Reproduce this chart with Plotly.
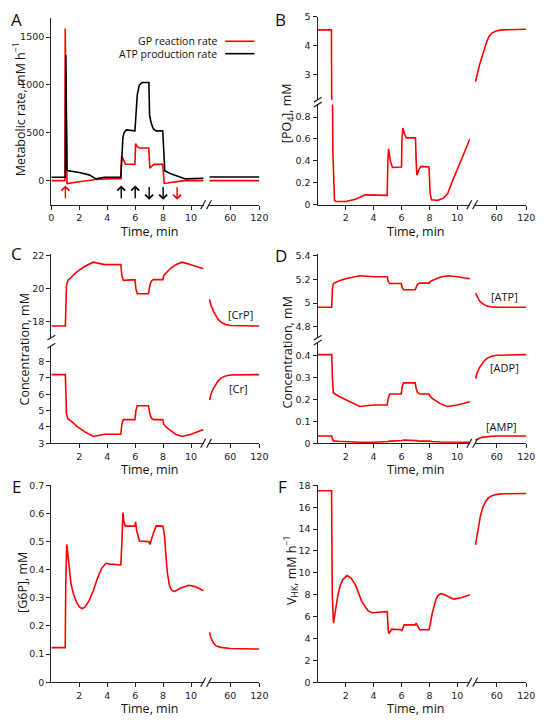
import plotly.graph_objects as go

# the page body has an 8 px margin, so the figure is drawn 8 px in from the window corner
OFF = 8
W, H = 542, 715
RED = '#ff0000'
BLACK = '#000000'

# ---------------- data (time in min) ----------------
# A: metabolic rates, mM h-1
gp_t = [0, 0.97, 0.99, 1.12, 2.0, 3.2, 4.0, 4.97, 5.03, 5.15, 5.3, 5.98, 6.03, 6.12, 6.3, 6.97, 7.05, 7.15, 7.35, 7.97, 8.08, 8.3, 8.8, 9.5, 10.9]
gp_v = [0, 0, 1590, -30, -12, 12, 18, 20, 262, 215, 172, 170, 388, 360, 340, 340, 130, 145, 170, 170, -28, -25, -12, 0, 0]
atp_rate_t = [0, 1.0, 1.03, 1.12, 2.0, 2.7, 3.2, 3.8, 4.97, 5.05, 5.12, 5.2, 5.35, 5.98, 6.05, 6.15, 6.3, 6.5, 6.98, 7.03, 7.15, 7.3, 7.5, 7.97, 8.05, 8.12, 8.6, 9.6, 10.9]
atp_rate_v = [35, 35, 1315, 105, 85, 60, 18, 35, 35, 300, 450, 500, 530, 520, 700, 900, 1000, 1025, 1025, 680, 600, 540, 520, 520, 300, 100, 70, 18, 25]
rate_rt = [17, 120]
gp_rv = [0, 0]
atp_rate_rv = [38, 38]
arrow_t = [1, 5, 6, 7, 8, 9]
arrow_up = [True, True, True, False, False, False]
arrow_col = [RED, BLACK, BLACK, BLACK, BLACK, RED]

# B: [PO4], mM
po4_t = [0, 0.98, 1.0, 1.08, 1.2, 1.3, 2.0, 2.7, 3.4, 4.0, 4.97, 5.03, 5.08, 5.2, 5.35, 6.0, 6.03, 6.1, 6.2, 6.35, 7.0, 7.05, 7.1, 7.25, 7.4, 7.97, 8.05, 8.15, 8.6, 9.0, 9.3, 9.6, 10.0, 10.4, 10.9]
po4_v = [4.55, 4.55, 2.0, 0.5, 0.04, 0.03, 0.03, 0.05, 0.09, 0.087, 0.085, 0.42, 0.51, 0.4, 0.34, 0.345, 0.6, 0.70, 0.65, 0.61, 0.61, 0.4, 0.27, 0.32, 0.35, 0.345, 0.1, 0.045, 0.04, 0.06, 0.1, 0.2, 0.32, 0.45, 0.6]
po4_rt = [17, 20, 25, 30, 35, 40, 45, 50, 60, 70, 120]
po4_rv = [2.75, 3.0, 3.32, 3.6, 3.88, 4.15, 4.34, 4.44, 4.52, 4.55, 4.57]

# C: [CrP] and [Cr], mM
cr_t = [0, 1.0, 1.08, 1.18, 1.5, 1.8, 2.4, 3.0, 3.8, 4.97, 5.05, 5.15, 5.98, 6.05, 6.15, 6.95, 7.05, 7.15, 7.3, 7.98, 8.05, 8.2, 8.5, 8.9, 9.35, 10.0, 10.9]
crp_v = [17.75, 17.75, 20.2, 20.5, 20.75, 21.0, 21.35, 21.6, 21.45, 21.45, 20.8, 20.5, 20.55, 20.0, 19.7, 19.7, 20.2, 20.45, 20.55, 20.55, 20.8, 20.95, 21.2, 21.45, 21.6, 21.45, 21.2]
cr_v = [7.2, 7.2, 4.8, 4.5, 4.3, 4.05, 3.7, 3.42, 3.55, 3.55, 4.2, 4.45, 4.45, 5.0, 5.3, 5.3, 4.8, 4.55, 4.45, 4.45, 4.15, 4.0, 3.8, 3.55, 3.42, 3.55, 3.85]
cr_rt = [17, 20, 25, 30, 35, 40, 50, 60, 120]
crp_rv = [19.35, 19.0, 18.65, 18.38, 18.15, 18.0, 17.85, 17.78, 17.75]
cr_rv = [5.65, 6.0, 6.35, 6.6, 6.82, 6.97, 7.12, 7.18, 7.2]

# D: adenine nucleotides, mM
an_t = [0, 1.0, 1.05, 1.12, 1.5, 2.0, 3.0, 4.0, 4.97, 5.05, 5.15, 5.98, 6.05, 6.15, 6.98, 7.05, 7.15, 7.3, 7.98, 8.05, 8.2, 8.8, 9.3, 10.0, 10.9]
atp_v = [4.965, 4.965, 5.12, 5.165, 5.185, 5.205, 5.23, 5.222, 5.222, 5.18, 5.165, 5.165, 5.13, 5.112, 5.112, 5.14, 5.16, 5.168, 5.168, 5.18, 5.19, 5.22, 5.23, 5.222, 5.205]
adp_v = [0.405, 0.405, 0.3, 0.23, 0.215, 0.2, 0.168, 0.175, 0.175, 0.205, 0.225, 0.225, 0.26, 0.276, 0.276, 0.25, 0.232, 0.225, 0.225, 0.215, 0.205, 0.18, 0.168, 0.175, 0.19]
amp_v = [0.033, 0.033, 0.02, 0.011, 0.009, 0.007, 0.005, 0.005, 0.005, 0.008, 0.01, 0.01, 0.013, 0.015, 0.015, 0.012, 0.011, 0.01, 0.01, 0.009, 0.008, 0.006, 0.005, 0.005, 0.005]
an_rt = [17, 20, 25, 30, 35, 40, 50, 60, 120]
atp_rv = [5.085, 5.055, 5.02, 5.0, 4.985, 4.975, 4.968, 4.966, 4.965]
adp_rv = [0.295, 0.32, 0.345, 0.362, 0.377, 0.388, 0.398, 0.402, 0.405]
amp_rv = [0.014, 0.018, 0.023, 0.027, 0.029, 0.031, 0.032, 0.033, 0.033]

# E: [G6P], mM
g6p_t = [0, 0.99, 1.03, 1.1, 1.15, 1.25, 1.4, 1.6, 1.8, 2.0, 2.2, 2.4, 2.7, 3.0, 3.3, 3.6, 3.9, 4.2, 4.97, 5.05, 5.12, 5.2, 5.3, 5.98, 6.03, 6.1, 6.3, 6.98, 7.05, 7.3, 7.5, 7.98, 8.1, 8.2, 8.3, 8.45, 8.6, 8.8, 9.25, 9.84, 10.3, 10.9]
g6p_v = [0.123, 0.123, 0.35, 0.49, 0.47, 0.41, 0.35, 0.31, 0.285, 0.268, 0.262, 0.267, 0.29, 0.325, 0.37, 0.405, 0.423, 0.42, 0.417, 0.5, 0.603, 0.57, 0.555, 0.555, 0.57, 0.54, 0.502, 0.5, 0.49, 0.53, 0.556, 0.555, 0.52, 0.45, 0.39, 0.345, 0.328, 0.322, 0.335, 0.345, 0.34, 0.325]
g6p_rt = [17, 20, 25, 30, 40, 50, 60, 120]
g6p_rv = [0.178, 0.158, 0.14, 0.13, 0.124, 0.121, 0.12, 0.118]

# F: V_HK, mM h-1
vhk_t = [0, 0.99, 1.04, 1.13, 1.2, 1.3, 1.45, 1.6, 1.8, 2.1, 2.4, 2.7, 2.93, 3.15, 3.4, 3.6, 3.87, 4.46, 4.98, 5.05, 5.1, 5.3, 5.98, 6.02, 6.2, 6.98, 7.05, 7.3, 7.98, 8.2, 8.45, 8.6, 8.8, 9.0, 9.15, 9.74, 10.33, 10.9]
vhk_v = [17.5, 17.5, 8.0, 5.4, 6.0, 7.0, 8.0, 8.8, 9.4, 9.75, 9.5, 8.9, 8.1, 7.4, 6.9, 6.55, 6.35, 6.4, 6.45, 4.8, 4.45, 4.85, 4.8, 4.7, 5.25, 5.25, 5.4, 4.8, 4.8, 6.3, 7.5, 7.9, 8.1, 8.05, 7.95, 7.6, 7.75, 8.0]
vhk_rt = [17, 22, 27, 32, 38, 43, 50, 60, 75, 120]
vhk_rv = [12.55, 14.1, 15.2, 16.0, 16.55, 16.85, 17.05, 17.17, 17.23, 17.25]

# ---------------- layout helpers ----------------
tick_font = dict(family='DejaVu Sans', size=9.5, color='#222')
LINE = '#222'

LEFT_SEG = [(49.3, 205), (321.7, 477.3)]
RIGHT_SEG = [(210, 262), (482, 535)]
SEG_RANGE_L = [0, 10.9]
SEG_RANGE_R = [15, 120]


def px(p):
    return (p - OFF) / W


def py(p):
    return 1 - (p - OFF) / H


def xax(seg, rng, vals, anchor):
    return dict(domain=[px(seg[0]), px(seg[1])], range=rng, anchor=anchor,
                tickvals=vals, ticktext=[str(v) for v in vals],
                showline=True, linecolor=LINE, linewidth=1.4, ticks='outside',
                ticklen=4, tickwidth=1.2, tickcolor=LINE, showgrid=False,
                zeroline=False, tickfont=tick_font)


def yax(seg, rng, vals, anchor, text=None):
    top, bot = seg
    return dict(domain=[py(bot), py(top)], range=rng, anchor=anchor,
                tickvals=vals, ticktext=text or [str(v) for v in vals],
                showline=True, linecolor=LINE, linewidth=1.4, ticks='outside',
                ticklen=4, tickwidth=1.2, tickcolor=LINE, showgrid=False,
                zeroline=False, tickfont=tick_font)


layout = {}
shapes = []
annotations = []


def slash(xp, yp, dx=3, dy=4):
    shapes.append(dict(type='line', xref='paper', yref='paper',
                       x0=px(xp - dx), x1=px(xp + dx),
                       y0=py(yp + dy), y1=py(yp - dy),
                       line=dict(color=LINE, width=1.2)))


def text(xp, yp, s, size=12.5, angle=0, anchor='center'):
    annotations.append(dict(x=px(xp), y=py(yp), xref='paper', yref='paper',
                            text=s, showarrow=False, textangle=angle,
                            xanchor=anchor, yanchor='middle',
                            font=dict(family='Open Sans', size=size, color='#111')))


fig = go.Figure()


def line(t, v, xa, ya, color=RED):
    fig.add_trace(go.Scatter(x=t, y=v, mode='lines', xaxis=xa, yaxis=ya,
                             line=dict(color=color, width=1.6),
                             hoverinfo='skip', showlegend=False))


def panel(col, xn, yn, ys, xbottom, left_ticks):
    xl, xr = xn, xn + 1
    bottom_y = yn + len(ys) - 1
    layout['xaxis%d' % xl] = xax(LEFT_SEG[col], SEG_RANGE_L, left_ticks, 'y%d' % bottom_y)
    layout['xaxis%d' % xr] = xax(RIGHT_SEG[col], SEG_RANGE_R, [60, 120], 'y%d' % bottom_y)
    for i, (seg, rng, vals, tt) in enumerate(ys):
        layout['yaxis%d' % (yn + i)] = yax(seg, rng, vals, 'x%d' % xl, tt)
    # break marks on the time axis
    mid = (LEFT_SEG[col][1] + RIGHT_SEG[col][0]) / 2
    slash(mid - 3, xbottom, 2.5, 4.5)
    slash(mid + 3, xbottom, 2.5, 4.5)
    # break marks on the value axis
    if len(ys) == 2:
        slash(LEFT_SEG[col][0], ys[0][0][1], 4, 2.5)
        slash(LEFT_SEG[col][0], ys[1][0][0], 4, 2.5)


# A
panel(0, 1, 1, [((12, 201.7), [-252, 1700], [0, 500, 1000, 1500], None)], 201.7, [0, 2, 4, 6, 8, 10])
# B
panel(1, 3, 2, [((11, 95), [2.12, 5], [3, 4, 5], None),
                ((100, 201.7), [0, 0.914], [0, 0.2, 0.4, 0.6, 0.8], None)], 201.7, [2, 4, 6, 8, 10])
# C
panel(0, 5, 4, [((251.7, 336.7), [17.05, 22.095], [18, 20, 22], None),
                ((345, 444), [3, 8.96], [3, 4, 5, 6, 7, 8], None)], 444, [2, 4, 6, 8, 10])
# D
panel(1, 7, 6, [((251.7, 336.7), [4.71, 5.413], [4.8, 5, 5.2, 5.4], ['4.8', '5', '5.2', '5.4']),
                ((341.7, 444), [0, 0.46], [0, 0.1, 0.2, 0.3, 0.4], None)], 444, [2, 4, 6, 8, 10])
# E
panel(0, 9, 8, [((486.7, 686.7), [0, 0.7], [0, 0.1, 0.2, 0.3, 0.4, 0.5, 0.6, 0.7], None)], 686.7, [2, 4, 6, 8, 10])
# F
panel(1, 11, 9, [((486.7, 686.7), [0, 18], [0, 2, 4, 6, 8, 10, 12, 14, 16, 18], None)], 686.7, [2, 4, 6, 8, 10])

# ---------------- traces ----------------
# A
line(gp_t, gp_v, 'x', 'y', RED)
line(atp_rate_t, atp_rate_v, 'x', 'y', BLACK)
line(rate_rt, gp_rv, 'x2', 'y', RED)
line(rate_rt, atp_rate_rv, 'x2', 'y', BLACK)
for t, up, c in zip(arrow_t, arrow_up, arrow_col):
    head, tail = (-50, -200) if up else (-200, -50)
    annotations.append(dict(x=t, y=head, ax=t, ay=tail, xref='x', yref='y',
                            axref='x', ayref='y', text='', showarrow=True,
                            arrowhead=4, arrowsize=1.1, arrowwidth=1.4, arrowcolor=c))
# B (drawn on both value segments so the drop crosses the break)
for ya in ('y2', 'y3'):
    line(po4_t, po4_v, 'x3', ya)
    line(po4_rt, po4_rv, 'x4', ya)
# C
line(cr_t, crp_v, 'x5', 'y4')
line(cr_rt, crp_rv, 'x6', 'y4')
line(cr_t, cr_v, 'x5', 'y5')
line(cr_rt, cr_rv, 'x6', 'y5')
# D
line(an_t, atp_v, 'x7', 'y6')
line(an_rt, atp_rv, 'x8', 'y6')
line(an_t, adp_v, 'x7', 'y7')
line(an_rt, adp_rv, 'x8', 'y7')
line(an_t, amp_v, 'x7', 'y7')
line(an_rt, amp_rv, 'x8', 'y7')
# E
line(g6p_t, g6p_v, 'x9', 'y8')
line(g6p_rt, g6p_rv, 'x10', 'y8')
# F
line(vhk_t, vhk_v, 'x11', 'y9')
line(vhk_rt, vhk_rv, 'x12', 'y9')

# ---------------- texts ----------------
for s, xp, yp in [('A', 14, 14), ('B', 284, 14), ('C', 14, 251), ('D', 284, 253), ('E', 14, 488), ('F', 286, 488)]:
    text(xp, yp, s, size=17)
for yp in (228.5, 470.5, 713):
    text(150, yp, 'Time, min')
    text(422, yp, 'Time, min')
text(16, 105, 'Metabolic rate, mM h<sup>\u22121</sup>', angle=-90)
text(291, 109, '[PO<sub>4</sub>], mM', angle=-90)
text(22, 349, 'Concentration, mM', angle=-90)
text(291, 352, 'Concentration, mM', angle=-90)
text(19, 585, '[G6P], mM', angle=-90)
text(295, 573, 'V<sub>HK</sub>, mM h<sup>\u22121</sup>', angle=-90)
text(243, 313, '[CrP]', size=11)
text(241, 388, '[Cr]', size=11)
text(513, 295, '[ATP]', size=11)
text(513, 367, '[ADP]', size=11)
text(510, 427, '[AMP]', size=11)

# legend of panel A (text left of the line sample)
text(221, 35.7, 'GP reaction rate', size=10.5, anchor='right')
text(221, 48.3, 'ATP production rate', size=10.5, anchor='right')
for yp, c in ((35.7, RED), (48.3, BLACK)):
    shapes.append(dict(type='line', xref='paper', yref='paper', x0=px(227), x1=px(257),
                       y0=py(yp), y1=py(yp), line=dict(color=c, width=1.6)))

fig.update_layout(**layout)
fig.update_layout(width=W, height=H, margin=dict(l=0, r=0, t=0, b=0),
                  plot_bgcolor='white', paper_bgcolor='white', showlegend=False,
                  shapes=shapes, annotations=annotations)

fig.write_html("out.html")
